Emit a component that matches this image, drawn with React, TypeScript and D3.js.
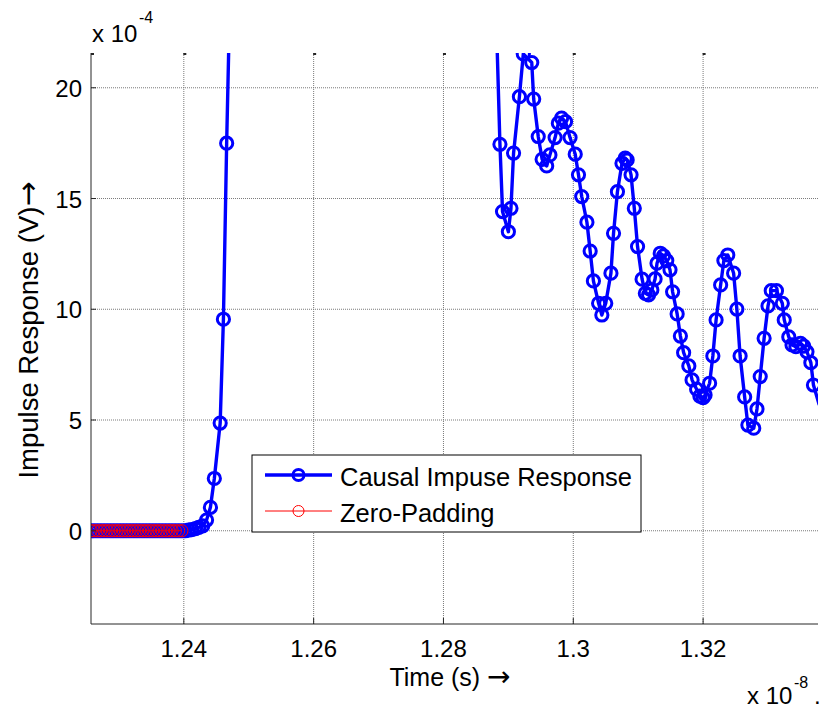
import React from "react";
import * as d3 from "d3";

// ---- data (time in units of 1e-8 s, value in units of 1e-4 V) ----
const zeroPadTime = [
  1.2257, 1.2262, 1.2267, 1.2272, 1.2277, 1.2282, 1.2287, 1.2292, 1.2297, 1.2302,
  1.2307, 1.2312, 1.2317, 1.2322, 1.2327, 1.2332, 1.2337, 1.2342, 1.2347, 1.2352,
  1.2357, 1.2362, 1.2367, 1.2372, 1.2377, 1.2382, 1.2387, 1.2392, 1.2397,
];
const zeroPadValue = [
  0, 0, 0, 0, 0, 0, 0, 0, 0, 0, 0, 0, 0, 0, 0, 0, 0, 0, 0, 0, 0, 0, 0, 0, 0, 0, 0, 0, 0,
];

const causalTime = [
  1.2257, 1.2262, 1.2267, 1.2272, 1.2277, 1.2282, 1.2287, 1.2292, 1.2297, 1.2302,
  1.2307, 1.2312, 1.2317, 1.2322, 1.2327, 1.2332, 1.2337, 1.2342, 1.2347, 1.2352,
  1.2357, 1.2362, 1.2367, 1.2372, 1.2377, 1.2382, 1.2387, 1.2392, 1.2397, 1.2402,
  1.2407, 1.2412, 1.2418, 1.2423, 1.2429, 1.2435, 1.2441, 1.2447, 1.2456, 1.2461,
  1.2466, 1.2471, 1.2478, 1.249, 1.251, 1.255, 1.26, 1.265, 1.27, 1.275,
  1.28, 1.285, 1.2882,
  1.2887, 1.2891, 1.29, 1.2904, 1.2908, 1.2917, 1.2923, 1.2936, 1.2939, 1.2946,
  1.2952, 1.2959, 1.2964, 1.2972, 1.2977, 1.2982, 1.2988, 1.2995, 1.3003, 1.3008,
  1.3013, 1.3021, 1.3026, 1.3031, 1.3039, 1.3044, 1.305, 1.3058, 1.3062, 1.3068,
  1.3075, 1.308, 1.3083, 1.3089, 1.3094, 1.3099, 1.3106, 1.3111, 1.3116, 1.3121,
  1.3126, 1.3129, 1.3134, 1.3139, 1.3144, 1.3149, 1.3153, 1.316, 1.3165, 1.317,
  1.3178, 1.3183, 1.319, 1.3195, 1.32, 1.3203, 1.321, 1.3215, 1.322, 1.3227,
  1.3232, 1.3238, 1.3247, 1.3252, 1.3257, 1.3264, 1.3269, 1.3278, 1.3283, 1.3288,
  1.3294, 1.33, 1.3305, 1.3313, 1.3322, 1.3325, 1.3332, 1.3337, 1.3343, 1.335,
  1.3355, 1.336, 1.3366, 1.337, 1.3379,
];
const causalValue = [
  0, 0, 0, 0, 0, 0, 0, 0, 0, 0,
  0, 0, 0, 0, 0, 0, 0, 0, 0, 0,
  0, 0, 0, 0, 0, 0, 0, 0, 0, 0,
  0.03, 0.05, 0.1, 0.15, 0.22, 0.48, 1.06, 2.36, 4.86, 9.55,
  17.5, 24.2, 33, 48, 60, 55, 42, 46, 36, 38,
  30, 27, 22.5,
  17.45, 14.41, 13.5, 14.56, 17.05, 19.6, 21.53, 21.14, 19.49, 17.8,
  16.77, 16.47, 16.97, 17.75, 18.4, 18.63, 18.47, 17.75, 17.0, 16.07,
  15.09, 13.93, 12.63, 11.28, 10.27, 9.74, 10.27, 11.63, 13.43, 15.31,
  16.59, 16.82, 16.74, 16.07, 14.56, 12.83, 11.36, 10.72, 10.65, 10.87,
  11.37, 12.08, 12.53, 12.41, 12.2, 11.78, 10.79, 9.79, 8.79, 8.04,
  7.44, 6.81, 6.39, 6.08, 6.01, 6.13, 6.66, 7.89, 9.52, 11.1,
  12.2, 12.45, 11.63, 10.01, 7.89, 6.04, 4.77, 4.63, 5.5, 6.96,
  8.69, 10.15, 10.84, 10.84, 10.27, 9.52, 8.75, 8.39, 8.31, 8.46,
  8.34, 8.08, 7.59, 6.58, 5.68,
];

const xTicks = [1.24, 1.26, 1.28, 1.3, 1.32];
const xTickLabels = ["1.24", "1.26", "1.28", "1.3", "1.32"];
const yTicks = [0, 5, 10, 15, 20];
const yTickLabels = ["0", "5", "10", "15", "20"];
const legendLabels = ["Causal Impuse Response", "Zero-Padding"];

const W = 827;
const H = 709;
const L = 91;
const R = 818;
const T = 53;
const B = 624;
const FONT = "'Liberation Sans', Arial, Helvetica, sans-serif";
const ARROW_FONT = "'DejaVu Sans', sans-serif";

export default function App() {
  const x = d3.scaleLinear().domain([1.2257, 1.3377]).range([L, R]);
  const y = d3.scaleLinear().domain([-4.21, 21.57]).range([B, T]);

  const causal = causalTime.map((t, i) => [t, causalValue[i]] as [number, number]);
  const zero = zeroPadTime.map((t, i) => [t, zeroPadValue[i]] as [number, number]);
  const line = d3
    .line<[number, number]>()
    .x((d) => x(d[0]))
    .y((d) => y(d[1]));

  const inside = (d: [number, number]) =>
    x(d[0]) >= L - 0.5 && x(d[0]) <= R + 0.5 && y(d[1]) >= T - 0.5 && y(d[1]) <= B + 0.5;

  const blue = "#0000ff";
  const red = "#ff0000";
  const MR = 6.1;

  return (
    <svg
      width={W}
      height={H}
      style={{ position: "absolute", left: 0, top: 0, background: "#fff" }}
      fontFamily={FONT}
    >
      <defs>
        <clipPath id="plotClip">
          <rect x={L} y={T} width={R - L} height={B - T} />
        </clipPath>
      </defs>
      <rect x={0} y={0} width={W} height={H} fill="#fff" />

      {/* grid */}
      {xTicks.map((t) => (
        <line
          key={"gx" + t}
          x1={x(t)}
          x2={x(t)}
          y1={T}
          y2={B}
          stroke="#7a7a7a"
          strokeWidth={1}
          strokeDasharray="1 1"
        />
      ))}
      {yTicks.map((v) => (
        <line
          key={"gy" + v}
          x1={L}
          x2={R}
          y1={y(v)}
          y2={y(v)}
          stroke="#7a7a7a"
          strokeWidth={1}
          strokeDasharray="1 1"
        />
      ))}

      {/* data */}
      <g clipPath="url(#plotClip)">
        <path d={line(causal) || ""} fill="none" stroke={blue} strokeWidth={3.4} strokeLinejoin="round" />
        {causal.filter(inside).map((d, i) => (
          <circle key={"c" + i} cx={x(d[0])} cy={y(d[1])} r={MR} fill="none" stroke={blue} strokeWidth={3} />
        ))}
        <path d={line(zero) || ""} fill="none" stroke={red} strokeWidth={1} />
        {zero.filter(inside).map((d, i) => (
          <circle key={"z" + i} cx={x(d[0])} cy={y(d[1])} r={MR} fill="none" stroke={red} strokeWidth={1} />
        ))}
      </g>

      {/* axes */}
      <line x1={L} x2={L} y1={T} y2={B} stroke="#262626" strokeWidth={1} />
      <line x1={L} x2={R} y1={B} y2={B} stroke="#262626" strokeWidth={1} />
      {xTicks.map((t) => (
        <g key={"tx" + t}>
          <line x1={x(t)} x2={x(t)} y1={B} y2={B - 6} stroke="#262626" strokeWidth={1} />
          <rect x={x(t) - 0.5} y={T} width={3} height={2} fill="#262626" />
        </g>
      ))}
      <rect x={L} y={T} width={3} height={2} fill="#262626" />
      {yTicks.map((v) => (
        <line key={"ty" + v} x1={L} x2={L + 5} y1={y(v)} y2={y(v)} stroke="#262626" strokeWidth={1} />
      ))}

      {/* tick labels */}
      {xTicks.map((t, i) => (
        <text key={"lx" + t} x={x(t)} y={657} textAnchor="middle" fontSize={24} fill="#000">
          {xTickLabels[i]}
        </text>
      ))}
      {yTicks.map((v, i) => (
        <text key={"ly" + v} x={82} y={y(v) + 9} textAnchor="end" fontSize={24} fill="#000">
          {yTickLabels[i]}
        </text>
      ))}

      {/* exponents */}
      <text x={92} y={42} fontSize={24} fill="#000">
        x 10
      </text>
      <text x={139} y={23} fontSize={16} fill="#000">
        -4
      </text>
      <text x={747} y={704} fontSize={24} fill="#000">
        x 10
      </text>
      <text x={794} y={688} fontSize={16} fill="#000">
        -8
      </text>
      <text x={814} y={704} fontSize={24} fill="#000">
        .
      </text>

      {/* axis labels */}
      <text x={450} y={686} textAnchor="middle" fontSize={25} fill="#000">
        Time (s){" "}
        <tspan fontFamily={ARROW_FONT} fontSize={28}>
          →
        </tspan>
      </text>
      <text
        transform={`translate(38, 330) rotate(-90)`}
        textAnchor="middle"
        fontSize={27.5}
        fill="#000"
      >
        Impulse Response (V)
        <tspan fontFamily={ARROW_FONT} fontSize={30}>
          →
        </tspan>
      </text>

      {/* legend */}
      <g>
        <rect x={252} y={455} width={389} height={77} fill="#fff" stroke="#000" strokeWidth={1} />
        <line x1={265} x2={332} y1={475} y2={475} stroke={blue} strokeWidth={3.4} />
        <circle cx={298.5} cy={475} r={5.5} fill="none" stroke={blue} strokeWidth={3} />
        <text x={340} y={486} fontSize={25.5} fill="#000">
          {legendLabels[0]}
        </text>
        <line x1={265} x2={332} y1={511} y2={511} stroke={red} strokeWidth={1} />
        <circle cx={298.5} cy={511} r={5.5} fill="none" stroke={red} strokeWidth={1} />
        <text x={340} y={522} fontSize={25.5} fill="#000">
          {legendLabels[1]}
        </text>
      </g>
    </svg>
  );
}
